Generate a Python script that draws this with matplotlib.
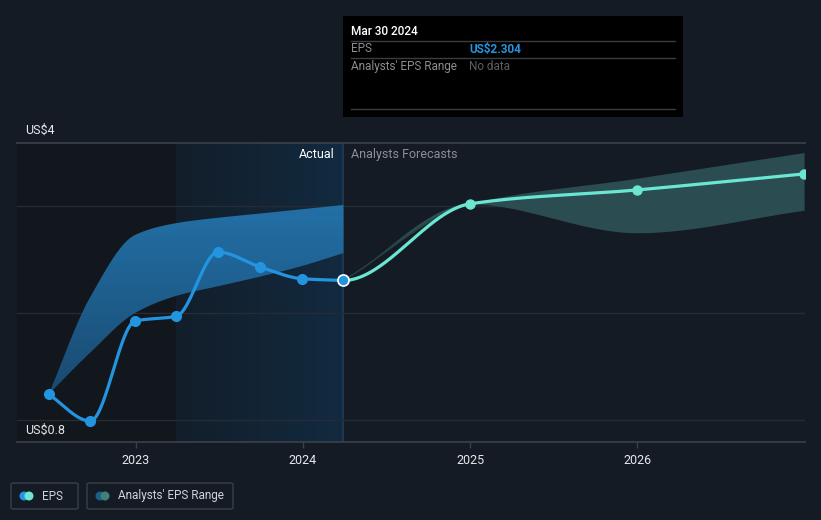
import numpy as np
import pandas as pd
import matplotlib
matplotlib.use("Agg")
import matplotlib.pyplot as plt
import matplotlib.dates as mdates
from matplotlib.patches import Rectangle, FancyBboxPatch, Ellipse
from matplotlib.colors import LinearSegmentedColormap

plt.rcParams["font.family"] = ["Roboto", "DejaVu Sans"]

# ---------------- data ----------------
eps_dates = ["2022-06-25", "2022-09-24", "2022-12-31", "2023-03-31",
             "2023-06-30", "2023-09-30", "2023-12-31", "2024-03-30"]
eps_values = [1.24, 0.99, 1.925, 1.97, 2.57, 2.43, 2.32, 2.304]

hist_range_upper = [1.24, 2.15, 2.73, 2.84, 2.89, 2.93, 2.97, 3.01]
hist_range_lower = [1.24, 1.63, 2.00, 2.16, 2.25, 2.34, 2.44, 2.56]

fc_dates = ["2024-03-30", "2024-12-31", "2025-12-31", "2026-12-31"]
fc_values = [2.304, 3.02, 3.15, 3.30]
fc_upper = [2.304, 3.02, 3.26, 3.50]
fc_lower = [2.304, 3.02, 2.75, 2.96]

year_ticks = ["2023", "2024", "2025", "2026"]
y_grid = [1, 2, 3]
y_min, y_max = 0.794, 3.589

# ---------------- helpers ----------------
def monotone(x, y, n=400, m0=None):
    x = np.asarray(x, float); y = np.asarray(y, float)
    h = np.diff(x); d = np.diff(y) / h
    m = np.zeros_like(y)
    m[0] = d[0] if m0 is None else m0
    m[-1] = d[-1]
    for i in range(1, len(y) - 1):
        if d[i - 1] * d[i] <= 0:
            m[i] = 0
        else:
            w1 = 2 * h[i] + h[i - 1]; w2 = h[i] + 2 * h[i - 1]
            m[i] = (w1 + w2) / (w1 / d[i - 1] + w2 / d[i])
    xs = np.linspace(x[0], x[-1], n)
    idx = np.clip(np.searchsorted(x, xs) - 1, 0, len(x) - 2)
    t = (xs - x[idx]) / h[idx]
    h00 = 2 * t**3 - 3 * t**2 + 1; h10 = t**3 - 2 * t**2 + t
    h01 = -2 * t**3 + 3 * t**2; h11 = t**3 - t**2
    ys = h00 * y[idx] + h10 * h[idx] * m[idx] + h01 * y[idx + 1] + h11 * h[idx] * m[idx + 1]
    return xs, ys

ex = mdates.date2num(pd.to_datetime(eps_dates))
fx = mdates.date2num(pd.to_datetime(fc_dates))

BG = "#151b25"
W, H = 821, 520
fig = plt.figure(figsize=(W / 100, H / 100), dpi=100, facecolor=BG)
L, R, T, B = 17, 805, 143, 442
ax = fig.add_axes([L / W, 1 - B / H, (R - L) / W, (B - T) / H])
ax.set_facecolor(BG)

x_left = mdates.date2num(pd.Timestamp("2022-04-17"))
x_right = mdates.date2num(pd.Timestamp("2027-01-02"))
ax.set_xlim(x_left, x_right)
ax.set_ylim(y_min, y_max)

# background regions
x_mar23 = mdates.date2num(pd.Timestamp("2023-03-31"))
x_now = ex[-1]
ax.axvspan(x_left, x_mar23, color="#12161d", zorder=0, lw=0)
grad = np.linspace(0, 1, 256).reshape(1, -1)
cm = LinearSegmentedColormap.from_list("g", ["#131e2a", "#122a40"])
ax.imshow(grad, cmap=cm, aspect="auto", extent=[x_mar23, x_now, y_min, y_max],
          zorder=0.5, interpolation="bilinear")
ax.plot([x_now, x_now], [y_min, y_max], color="#1d3a55", lw=1.2, zorder=1)

# grid
for g in y_grid:
    ax.axhline(g, color="#262c36", lw=1, zorder=1)
ax.axhline(y_max, color="#3b414b", lw=1.2, zorder=1, clip_on=False)
ax.axhline(y_min, color="#3b414b", lw=1.2, zorder=1, clip_on=False)

# historical analyst range (vertical gradient)
hx, hu = monotone(ex, hist_range_upper)
_, hl = monotone(ex, hist_range_lower)
poly = ax.fill_between(hx, hl, hu, color="none", lw=0, zorder=2)
vgrad = np.linspace(1, 0, 256).reshape(-1, 1)
cmb = LinearSegmentedColormap.from_list("b", ["#19496f", "#2371a8"])
im = ax.imshow(vgrad, cmap=cmb, aspect="auto",
               extent=[ex[0], ex[-1], 1.2, 3.05], origin="upper",
               zorder=2, interpolation="bilinear")
im.set_clip_path(poly.get_paths()[0], transform=ax.transData)
ax.set_xlim(x_left, x_right)
ax.set_ylim(y_min, y_max)

# forecast range
fxx, fu = monotone(fx, fc_upper)
_, fl = monotone(fx, fc_lower)
ax.fill_between(fxx, fl, fu, color="#2b4c50", lw=0, zorder=2)
ax.plot(fxx[fxx < fx[1]], fu[fxx < fx[1]], color="#24403f", lw=1, zorder=2)

# EPS lines
sx, sy = monotone(ex, eps_values)
ax.plot(sx, sy, color="#2394df", lw=2.3, zorder=4, solid_capstyle="round")
ax.plot(ex[:-1], eps_values[:-1], "o", color="#2394df", ms=7, zorder=5)
fxs, fys = monotone(fx, fc_values, m0=0.0)
ax.plot(fxs, fys, color="#6ae6d2", lw=2.3, zorder=4, solid_capstyle="round")
ax.plot(fx[1:], fc_values[1:], "o", color="#6ae6d2", ms=6.5, zorder=5)
ax.plot([ex[-1]], [eps_values[-1]], "o", color="#2394df", mec="white", mew=1.2, ms=8, zorder=6)

# axes styling
for s in ax.spines.values():
    s.set_visible(False)
ax.set_yticks([])
ax.set_xticks(mdates.date2num(pd.to_datetime([y + "-01-01" for y in year_ticks])))
ax.set_xticklabels(year_ticks)
ax.tick_params(axis="x", colors="#3b414b", labelcolor="#e6e8eb", length=4, width=1,
               labelsize=9, pad=5)

# texts
fig.text(25 / W, 1 - 130 / H, "US$4", color="#e6e8eb", fontsize=9, va="center", ha="left")
fig.text(25 / W, 1 - 430 / H, "US$0.8", color="#e6e8eb", fontsize=9, va="center", ha="left")
fig.text(335 / W, 1 - 154 / H, "Actual", color="#ffffff", fontsize=9, va="center", ha="right")
fig.text(351 / W, 1 - 154 / H, "Analysts Forecasts", color="#8a8f98", fontsize=9, va="center", ha="left")

# tooltip
fig.patches.append(Rectangle((343 / W, 1 - 117 / H), (683 - 343) / W, (117 - 16) / H,
                             transform=fig.transFigure, facecolor="#000000", edgecolor="none", zorder=10))
for yy in (41.5, 58, 109):
    fig.add_artist(plt.Line2D([351 / W, 675 / W], [1 - yy / H] * 2, color="#3a3d42", lw=1, zorder=11))
fig.text(351 / W, 1 - 31.5 / H, "Mar 30 2024", color="#ffffff", fontsize=8.5, va="center",
         fontweight="medium", zorder=12)
fig.text(351 / W, 1 - 49 / H, "EPS", color="#8a8d92", fontsize=8.5, va="center", zorder=12)
fig.text(469 / W, 1 - 49 / H, "US$2.304", color="#2394df", fontsize=8.5, va="center",
         fontweight="bold", zorder=12)
fig.text(351 / W, 1 - 66.5 / H, "Analysts' EPS Range", color="#8a8d92", fontsize=8.5, va="center", zorder=12)
fig.text(469 / W, 1 - 66.5 / H, "No data", color="#5c5f64", fontsize=8.5, va="center", zorder=12)

# legend
def legend_box(x0, x1, c1, c2, label):
    fig.patches.append(FancyBboxPatch((x0 / W, 1 - 509 / H), (x1 - x0) / W, 26 / H,
                                      boxstyle="round,pad=0,rounding_size=0.003",
                                      transform=fig.transFigure, facecolor="none",
                                      edgecolor="#3a3f48", lw=1))
    cy = 1 - 496 / H
    fig.patches.append(Ellipse(((x0 + 13) / W, cy), 9 / W, 9 / H, transform=fig.transFigure,
                               facecolor=c1, edgecolor="none"))
    fig.patches.append(Ellipse(((x0 + 18) / W, cy), 9 / W, 9 / H, transform=fig.transFigure,
                               facecolor=c2, edgecolor="none"))
    fig.text((x0 + 31) / W, cy, label, color="#d0d3d7", fontsize=8.5, va="center")

legend_box(11, 78, "#2394df", "#6ae6d2", "EPS")
legend_box(87, 233, "#1f5a88", "#3f827c", "Analysts' EPS Range")

fig.savefig("out.png", dpi=100, facecolor=BG)
